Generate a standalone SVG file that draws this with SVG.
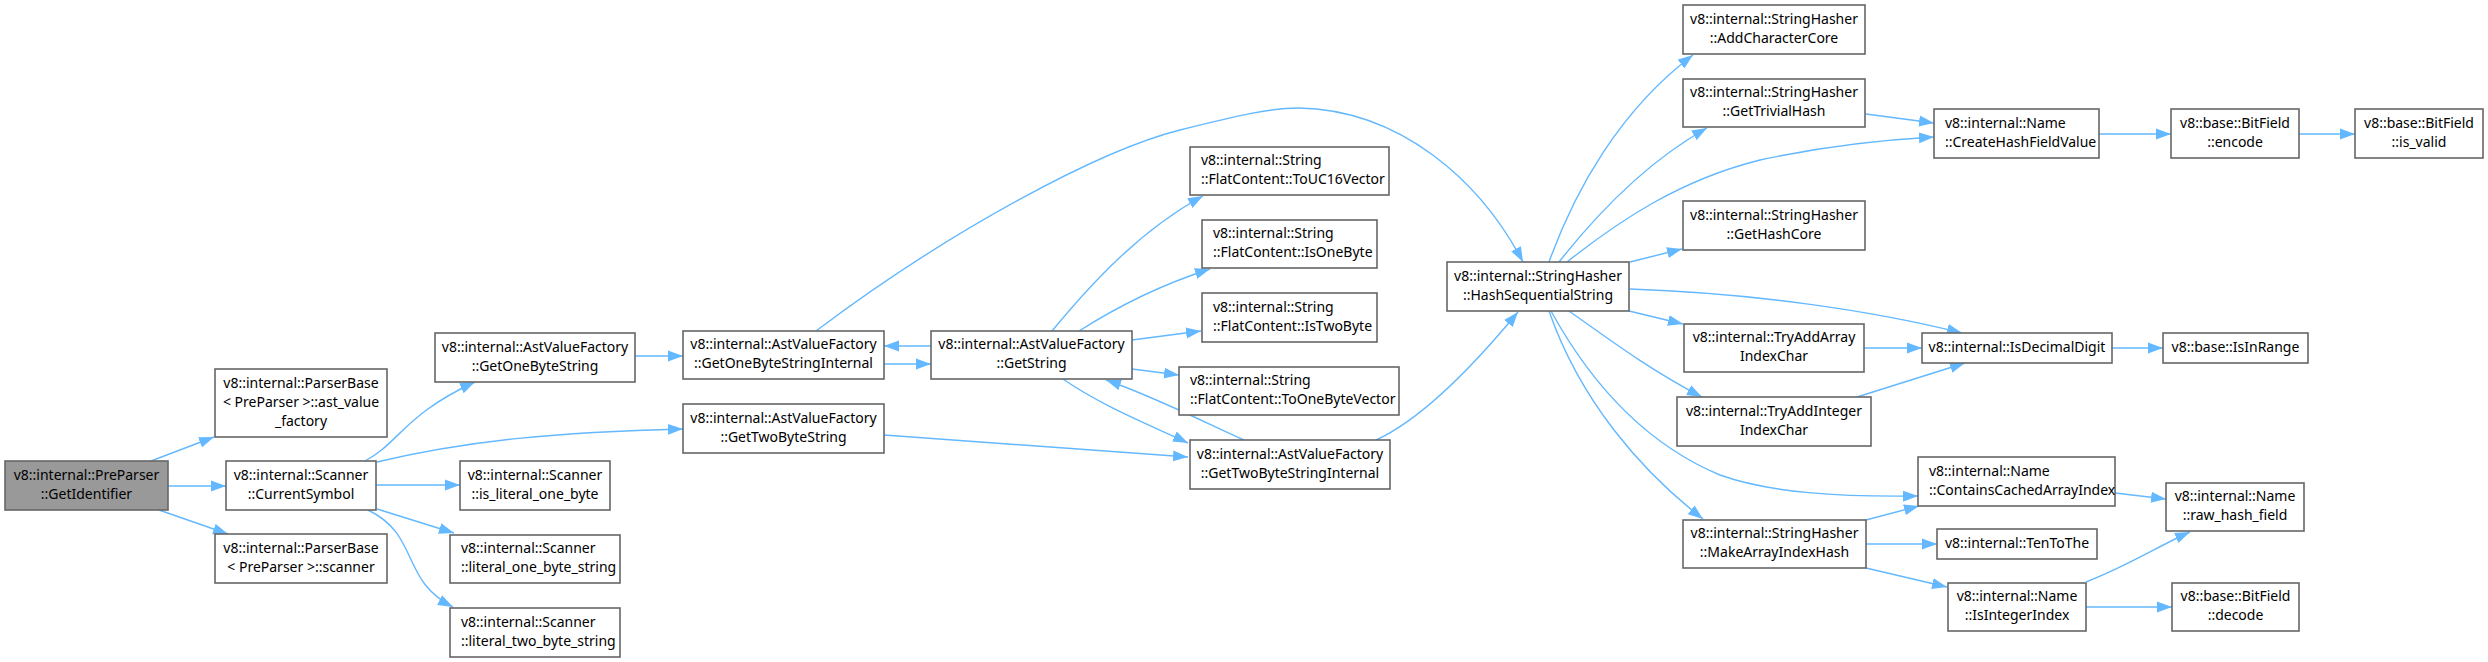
<svg xmlns="http://www.w3.org/2000/svg" width="2488" height="662" viewBox="0 0 2488 662">
<defs>
<marker id="ah" markerUnits="userSpaceOnUse" markerWidth="16" markerHeight="12" viewBox="0 0 16 12" refX="15" refY="6" orient="auto">
<path d="M0,0.5 L15,6 L0,11.5 z" fill="#63b8ff"/>
</marker>
<style>
.n rect{fill:#fff;stroke:#666;stroke-width:1.6}
.root rect{fill:#999}
.n text{font-family:"Noto Sans","DejaVu Sans",sans-serif;font-size:14px;fill:#000}
.c{text-anchor:middle}
.e path{fill:none;stroke:#63b8ff;stroke-width:1.4;marker-end:url(#ah)}
</style>
</defs>
<rect width="2488" height="662" fill="#fff"/>
<g id="edges" class="e">
<path d="M151,461 L214,437"/>
<path d="M168,486 L226,486"/>
<path d="M159,510 L228,534"/>
<path d="M365,461 C398,444 405,414 475,382"/>
<path d="M377,462 C470,440 560,432 683,429"/>
<path d="M376,485 L460,485"/>
<path d="M377,509 L454,533"/>
<path d="M368,510 C420,535 400,580 453,607"/>
<path d="M635,356 L683,356"/>
<path d="M884,364 L931,364"/>
<path d="M931,346 L884,346"/>
<path d="M816,331 C950,230 1100,150 1180,130 C1240,115 1270,108 1299,108 C1400,110 1480,180 1523,262"/>
<path d="M1052,331 C1090,285 1140,230 1203,196"/>
<path d="M1079,331 C1120,305 1160,285 1210,269"/>
<path d="M1132,340 L1201,331"/>
<path d="M1132,369 L1179,375"/>
<path d="M1063,379 C1100,405 1150,425 1188,443"/>
<path d="M1244,440 C1200,420 1150,395 1106,380"/>
<path d="M884,435 L1188,457"/>
<path d="M1376,440 C1420,420 1470,370 1518,312"/>
<path d="M1549,262 C1575,190 1620,110 1693,55"/>
<path d="M1559,262 C1600,210 1650,160 1707,128"/>
<path d="M1567,262 C1620,220 1680,180 1760,160 C1820,147 1880,140 1934,137"/>
<path d="M1630,262 L1682,249"/>
<path d="M1630,289 C1750,293 1870,310 1962,333"/>
<path d="M1629,311 L1683,324"/>
<path d="M1569,311 C1610,340 1650,370 1702,397"/>
<path d="M1551,311 C1600,400 1660,450 1720,475 C1770,493 1840,497 1918,496"/>
<path d="M1549,311 C1580,400 1640,470 1703,519"/>
<path d="M1866,114 L1934,123"/>
<path d="M2099,134 L2171,134"/>
<path d="M2299,134 L2355,134"/>
<path d="M1864,348 L1922,348"/>
<path d="M1857,397 L1965,363"/>
<path d="M2112,348 L2163,348"/>
<path d="M1866,520 L1919,506"/>
<path d="M1866,544 L1937,544"/>
<path d="M1866,568 L1947,587"/>
<path d="M2115,493 L2166,499"/>
<path d="M2086,582 C2130,565 2160,545 2190,532"/>
<path d="M2086,607 L2172,607"/>
</g>
<g id="n0" class="n root"><rect x="5" y="461" width="163" height="49"/><text class="c" x="86.5" y="479.5">v8::internal::PreParser</text><text class="c" x="86.5" y="498.5">::GetIdentifier</text></g>
<g id="n1" class="n"><rect x="215" y="369" width="172" height="68"/><text class="c" x="301" y="387.5">v8::internal::ParserBase</text><text class="c" x="301" y="406.5">&lt; PreParser &gt;::ast_value</text><text class="c" x="301" y="425.5">_factory</text></g>
<g id="n2" class="n"><rect x="226" y="461" width="150" height="49"/><text class="c" x="301" y="479.5">v8::internal::Scanner</text><text class="c" x="301" y="498.5">::CurrentSymbol</text></g>
<g id="n3" class="n"><rect x="215" y="534" width="172" height="49"/><text class="c" x="301" y="552.5">v8::internal::ParserBase</text><text class="c" x="301" y="571.5">&lt; PreParser &gt;::scanner</text></g>
<g id="n4" class="n"><rect x="435" y="333" width="200" height="49"/><text class="c" x="535" y="351.5">v8::internal::AstValueFactory</text><text class="c" x="535" y="370.5">::GetOneByteString</text></g>
<g id="n5" class="n"><rect x="683" y="404" width="201" height="49"/><text class="c" x="783.5" y="422.5">v8::internal::AstValueFactory</text><text class="c" x="783.5" y="441.5">::GetTwoByteString</text></g>
<g id="n6" class="n"><rect x="683" y="331" width="201" height="48"/><text class="c" x="783.5" y="349">v8::internal::AstValueFactory</text><text class="c" x="783.5" y="368">::GetOneByteStringInternal</text></g>
<g id="n7" class="n"><rect x="460" y="461" width="150" height="49"/><text class="c" x="535" y="479.5">v8::internal::Scanner</text><text class="c" x="535" y="498.5">::is_literal_one_byte</text></g>
<g id="n8" class="n"><rect x="450" y="535" width="170" height="48"/><text x="461" y="553">v8::internal::Scanner</text><text x="461" y="572">::literal_one_byte_string</text></g>
<g id="n9" class="n"><rect x="450" y="608" width="170" height="49"/><text x="461" y="626.5">v8::internal::Scanner</text><text x="461" y="645.5">::literal_two_byte_string</text></g>
<g id="n10" class="n"><rect x="931" y="331" width="201" height="48"/><text class="c" x="1031.5" y="349">v8::internal::AstValueFactory</text><text class="c" x="1031.5" y="368">::GetString</text></g>
<g id="n11" class="n"><rect x="1190" y="440" width="200" height="49"/><text class="c" x="1290" y="458.5">v8::internal::AstValueFactory</text><text class="c" x="1290" y="477.5">::GetTwoByteStringInternal</text></g>
<g id="n12" class="n"><rect x="1190" y="147" width="199" height="48"/><text x="1201" y="165">v8::internal::String</text><text x="1201" y="184">::FlatContent::ToUC16Vector</text></g>
<g id="n13" class="n"><rect x="1202" y="220" width="175" height="48"/><text x="1213" y="238">v8::internal::String</text><text x="1213" y="257">::FlatContent::IsOneByte</text></g>
<g id="n14" class="n"><rect x="1202" y="293" width="175" height="49"/><text x="1213" y="311.5">v8::internal::String</text><text x="1213" y="330.5">::FlatContent::IsTwoByte</text></g>
<g id="n15" class="n"><rect x="1179" y="367" width="220" height="48"/><text x="1190" y="385">v8::internal::String</text><text x="1190" y="404">::FlatContent::ToOneByteVector</text></g>
<g id="n16" class="n"><rect x="1447" y="262" width="182" height="49"/><text class="c" x="1538" y="280.5">v8::internal::StringHasher</text><text class="c" x="1538" y="299.5">::HashSequentialString</text></g>
<g id="n17" class="n"><rect x="1683" y="5" width="182" height="49"/><text class="c" x="1774" y="23.5">v8::internal::StringHasher</text><text class="c" x="1774" y="42.5">::AddCharacterCore</text></g>
<g id="n18" class="n"><rect x="1683" y="79" width="182" height="48"/><text class="c" x="1774" y="97">v8::internal::StringHasher</text><text class="c" x="1774" y="116">::GetTrivialHash</text></g>
<g id="n19" class="n"><rect x="1934" y="109" width="165" height="49"/><text x="1945" y="127.5">v8::internal::Name</text><text x="1945" y="146.5">::CreateHashFieldValue</text></g>
<g id="n20" class="n"><rect x="2171" y="109" width="128" height="49"/><text class="c" x="2235" y="127.5">v8::base::BitField</text><text class="c" x="2235" y="146.5">::encode</text></g>
<g id="n21" class="n"><rect x="2355" y="109" width="128" height="49"/><text class="c" x="2419" y="127.5">v8::base::BitField</text><text class="c" x="2419" y="146.5">::is_valid</text></g>
<g id="n22" class="n"><rect x="1683" y="201" width="182" height="49"/><text class="c" x="1774" y="219.5">v8::internal::StringHasher</text><text class="c" x="1774" y="238.5">::GetHashCore</text></g>
<g id="n23" class="n"><rect x="1684" y="324" width="180" height="48"/><text class="c" x="1774" y="342">v8::internal::TryAddArray</text><text class="c" x="1774" y="361">IndexChar</text></g>
<g id="n24" class="n"><rect x="1677" y="397" width="194" height="49"/><text class="c" x="1774" y="415.5">v8::internal::TryAddInteger</text><text class="c" x="1774" y="434.5">IndexChar</text></g>
<g id="n25" class="n"><rect x="1922" y="333" width="190" height="30"/><text class="c" x="2017" y="351.5">v8::internal::IsDecimalDigit</text></g>
<g id="n26" class="n"><rect x="2163" y="333" width="145" height="30"/><text class="c" x="2235.5" y="351.5">v8::base::IsInRange</text></g>
<g id="n27" class="n"><rect x="1918" y="457" width="197" height="49"/><text x="1929" y="475.5">v8::internal::Name</text><text x="1929" y="494.5">::ContainsCachedArrayIndex</text></g>
<g id="n28" class="n"><rect x="2166" y="483" width="138" height="48"/><text class="c" x="2235" y="501">v8::internal::Name</text><text class="c" x="2235" y="520">::raw_hash_field</text></g>
<g id="n29" class="n"><rect x="1683" y="520" width="183" height="48"/><text class="c" x="1774.5" y="538">v8::internal::StringHasher</text><text class="c" x="1774.5" y="557">::MakeArrayIndexHash</text></g>
<g id="n30" class="n"><rect x="1937" y="529" width="160" height="30"/><text class="c" x="2017" y="547.5">v8::internal::TenToThe</text></g>
<g id="n31" class="n"><rect x="1948" y="583" width="138" height="48"/><text class="c" x="2017" y="601">v8::internal::Name</text><text class="c" x="2017" y="620">::IsIntegerIndex</text></g>
<g id="n32" class="n"><rect x="2172" y="583" width="127" height="48"/><text class="c" x="2235.5" y="601">v8::base::BitField</text><text class="c" x="2235.5" y="620">::decode</text></g>
</svg>
